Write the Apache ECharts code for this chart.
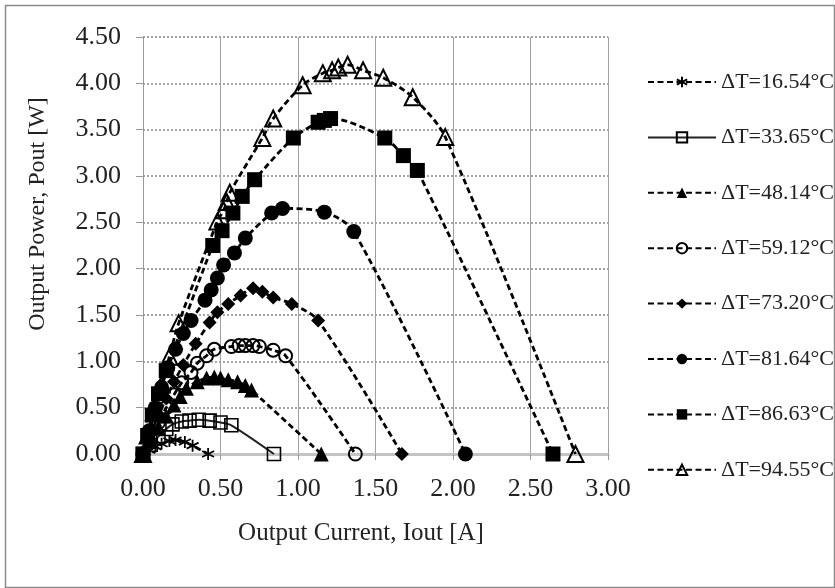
<!DOCTYPE html>
<html>
<head>
<meta charset="utf-8">
<script src="https://cdn.jsdelivr.net/npm/echarts@6/dist/echarts.min.js"></script>
<style>
  html, body { margin: 0; padding: 0; background: #fff; }
  #chart { width: 835px; height: 588px; }
</style>
</head>
<body>
<div id="chart"></div>
<script>
// Output current (A) and output power (W) for each temperature difference
const I_1654 = [0, 0.04, 0.08, 0.12, 0.17, 0.21, 0.27, 0.32, 0.42];
const P_1654 = [0, 0.04, 0.08, 0.11, 0.14, 0.15, 0.13, 0.09, 0];

const I_3365 = [0, 0.05, 0.10, 0.15, 0.19, 0.25, 0.30, 0.36, 0.43, 0.50, 0.57, 0.845];
const P_3365 = [0, 0.10, 0.19, 0.27, 0.32, 0.35, 0.36, 0.37, 0.36, 0.34, 0.31, 0];

const I_4814 = [0, 0.05, 0.10, 0.15, 0.20, 0.24, 0.28, 0.35, 0.41, 0.46, 0.50, 0.55, 0.61, 0.66, 0.70, 1.15];
const P_4814 = [0, 0.14, 0.28, 0.41, 0.53, 0.62, 0.71, 0.78, 0.82, 0.83, 0.82, 0.80, 0.78, 0.74, 0.69, 0];

const I_5912 = [0, 0.05, 0.10, 0.15, 0.20, 0.25, 0.31, 0.35, 0.41, 0.46, 0.57, 0.62, 0.66, 0.71, 0.75, 0.84, 0.92, 1.37];
const P_5912 = [0, 0.17, 0.34, 0.50, 0.64, 0.77, 0.88, 0.98, 1.06, 1.13, 1.16, 1.17, 1.17, 1.17, 1.16, 1.12, 1.06, 0];

const I_7320 = [0, 0.05, 0.10, 0.15, 0.20, 0.26, 0.34, 0.43, 0.48, 0.55, 0.63, 0.71, 0.77, 0.84, 0.96, 1.13, 1.67];
const P_7320 = [0, 0.22, 0.42, 0.60, 0.78, 0.96, 1.19, 1.42, 1.53, 1.62, 1.71, 1.79, 1.75, 1.69, 1.62, 1.44, 0];

const I_8164 = [0, 0.04, 0.08, 0.12, 0.16, 0.21, 0.26, 0.31, 0.40, 0.44, 0.48, 0.52, 0.59, 0.66, 0.83, 0.90, 1.17, 1.36, 2.08];
const P_8164 = [0, 0.25, 0.50, 0.72, 0.93, 1.13, 1.30, 1.44, 1.66, 1.77, 1.90, 2.04, 2.17, 2.33, 2.60, 2.65, 2.61, 2.40, 0];

const I_8663 = [0, 0.03, 0.06, 0.10, 0.15, 0.45, 0.51, 0.58, 0.64, 0.72, 0.97, 1.13, 1.17, 1.21, 1.56, 1.68, 1.77, 2.645];
const P_8663 = [0, 0.20, 0.42, 0.65, 0.90, 2.25, 2.41, 2.60, 2.78, 2.96, 3.41, 3.58, 3.60, 3.62, 3.41, 3.22, 3.06, 0];

const I_9455 = [0, 0.03, 0.07, 0.12, 0.17, 0.23, 0.48, 0.52, 0.54, 0.56, 0.77, 0.84, 1.03, 1.16, 1.22, 1.26, 1.32, 1.42, 1.55, 1.74, 1.95, 2.79];
const P_9455 = [0, 0.20, 0.45, 0.75, 1.05, 1.41, 2.51, 2.63, 2.72, 2.82, 3.41, 3.62, 3.98, 4.11, 4.14, 4.17, 4.20, 4.14, 4.06, 3.85, 3.42, 0];

const seriesNames = ['ΔT=16.54°C', 'ΔT=33.65°C', 'ΔT=48.14°C', 'ΔT=59.12°C',
                     'ΔT=73.20°C', 'ΔT=81.64°C', 'ΔT=86.63°C', 'ΔT=94.55°C'];

const xTicks = { min: 0, max: 3, interval: 0.5 };
const yTicks = { min: 0, max: 4.5, interval: 0.5 };

const SERIF = "'Liberation Serif', 'DejaVu Serif', serif";
const ASTERISK = 'path://M10,0L10,20M1.34,5L18.66,15M1.34,15L18.66,5';
const CLEAR = 'rgba(0,0,0,0)';

function pairs(xs, ys) { return xs.map((x, i) => [x, ys[i]]); }

const dashed = { color: '#000', width: 2.8, type: [6, 3.5] };

// marker look for each curve
const styles = [
  { symbol: ASTERISK, size: 12, item: { color: CLEAR, borderColor: '#000', borderWidth: 1.8 }, line: dashed },
  { symbol: 'rect', size: 13, item: { color: CLEAR, borderColor: '#000', borderWidth: 1.6 }, line: { color: '#222', width: 2, type: 'solid' } },
  { symbol: 'triangle', size: 15, item: { color: '#000' }, line: dashed },
  { symbol: 'circle', size: 13, item: { color: CLEAR, borderColor: '#000', borderWidth: 2 }, line: dashed },
  { symbol: 'diamond', size: 14, item: { color: '#000' }, line: dashed },
  { symbol: 'circle', size: 15, item: { color: '#000' }, line: dashed },
  { symbol: 'rect', size: 15, item: { color: '#000' }, line: dashed },
  { symbol: 'triangle', size: 16, item: { color: CLEAR, borderColor: '#000', borderWidth: 2 }, line: dashed }
];

const dataSets = [
  pairs(I_1654, P_1654), pairs(I_3365, P_3365), pairs(I_4814, P_4814), pairs(I_5912, P_5912),
  pairs(I_7320, P_7320), pairs(I_8164, P_8164), pairs(I_8663, P_8663), pairs(I_9455, P_9455)
];

const series = dataSets.map((d, k) => ({
  name: seriesNames[k],
  type: 'line',
  data: d,
  smooth: 0.3,
  symbol: styles[k].symbol,
  symbolSize: styles[k].size,
  showAllSymbol: true,
  lineStyle: styles[k].line,
  itemStyle: styles[k].item,
  emphasis: { disabled: true },
  z: 2 + k
}));

const chart = echarts.init(document.getElementById('chart'), null, { renderer: 'canvas' });
chart.setOption({
  animation: false,
  backgroundColor: '#fff',
  grid: { left: 143, top: 37, width: 465, height: 417, containLabel: false },
  xAxis: {
    type: 'value',
    min: xTicks.min, max: xTicks.max, interval: xTicks.interval,
    axisLine: { show: true, lineStyle: { color: '#c4c4c4', width: 3 } },
    axisTick: { show: true, inside: false, length: 6, lineStyle: { color: '#999', width: 1 } },
    axisLabel: { margin: 22, fontFamily: SERIF, fontSize: 26, color: '#222', formatter: v => v.toFixed(2) },
    splitLine: { show: true, lineStyle: { color: '#a0a0a0', width: 1, type: 'solid' } }
  },
  yAxis: {
    type: 'value',
    min: yTicks.min, max: yTicks.max, interval: yTicks.interval,
    axisLine: { show: true, lineStyle: { color: '#999', width: 1 } },
    axisTick: { show: true, inside: false, length: 7, lineStyle: { color: '#999', width: 1 } },
    axisLabel: { margin: 22, fontFamily: SERIF, fontSize: 26, color: '#222', formatter: v => v.toFixed(2) },
    splitLine: { show: true, lineStyle: { color: '#888', width: 1.5, type: [2, 2] } }
  },
  legend: {
    orient: 'vertical',
    left: 647, top: 71, padding: 0,
    itemWidth: 68, itemHeight: 13, itemGap: 33.4,
    data: seriesNames,
    selectedMode: false,
    textStyle: { fontFamily: SERIF, fontSize: 22, color: '#222', lineHeight: 22 }
  },
  graphic: [
    { type: 'rect', left: 3, top: 3, shape: { width: 829, height: 582 },
      style: { fill: 'none', stroke: '#8a8a8a', lineWidth: 1.5 }, silent: true, z: -1 },
    { type: 'text', x: 361, y: 533,
      style: { text: 'Output Current, Iout [A]', font: "25px 'Liberation Serif'", fill: '#222', align: 'center', verticalAlign: 'middle' } },
    { type: 'text', x: 38, y: 214, rotation: Math.PI / 2,
      style: { text: 'Output Power, Pout [W]', font: "24px 'Liberation Serif'", fill: '#222', align: 'center', verticalAlign: 'middle' } }
  ],
  series: series
});
</script>
</body>
</html>
